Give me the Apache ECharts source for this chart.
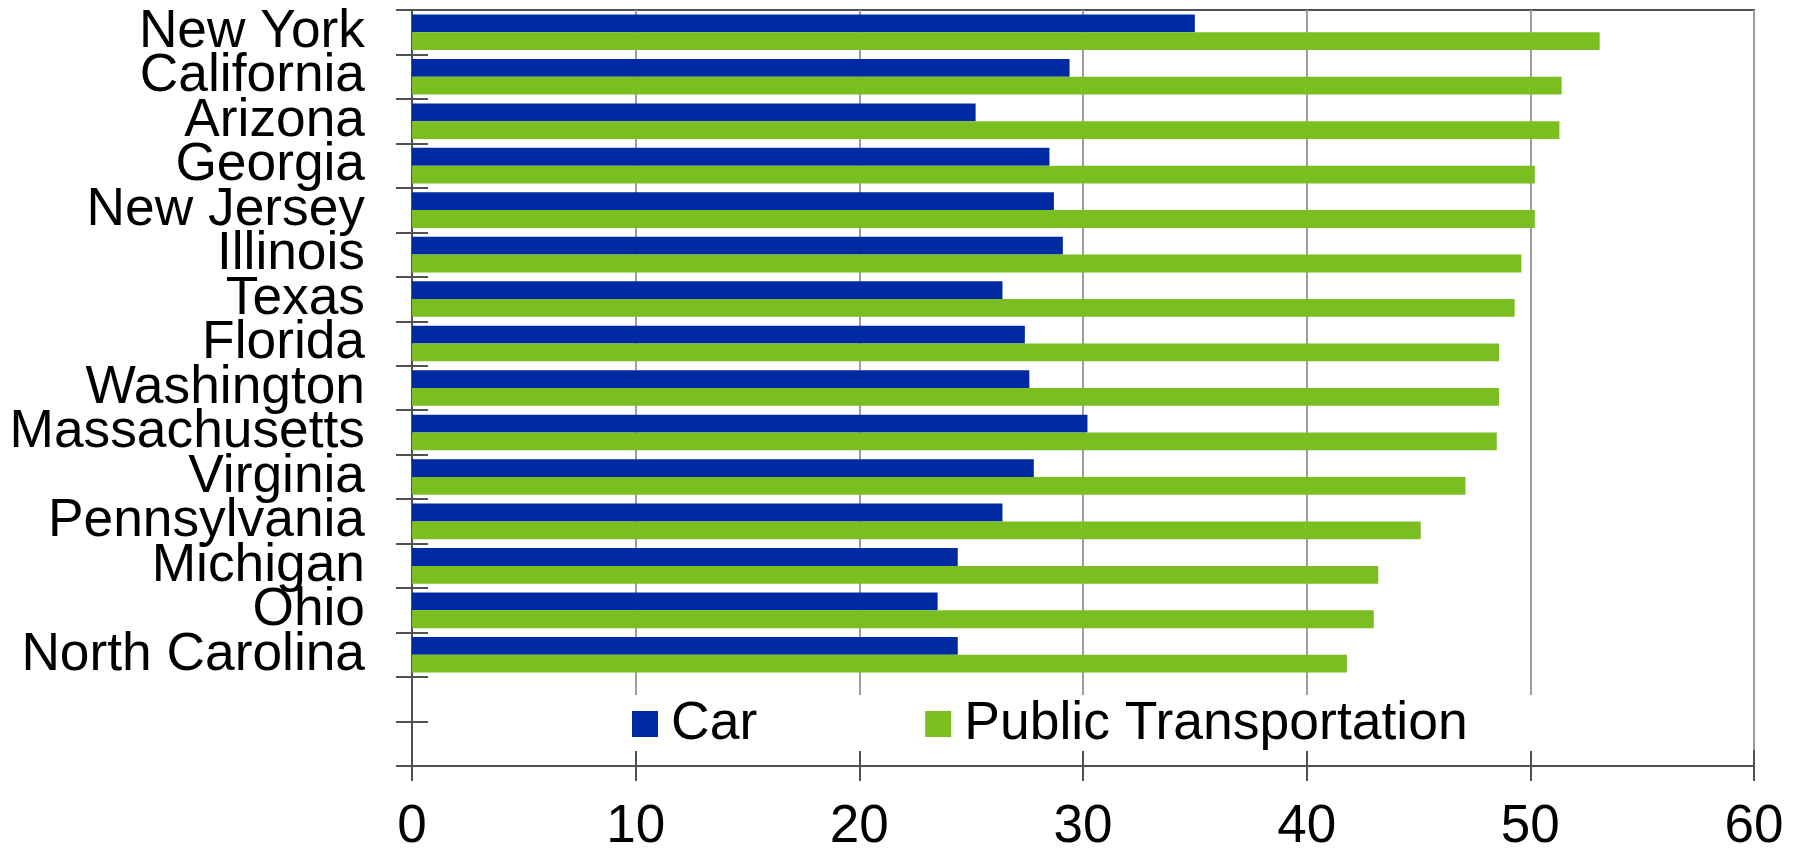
<!DOCTYPE html>
<html>
<head>
<meta charset="utf-8">
<script src="https://cdn.jsdelivr.net/npm/echarts@6/dist/echarts.min.js"></script>
<style>
  html, body { margin: 0; padding: 0; background: #fff; }
  #chart { width: 1803px; height: 854px; }
</style>
</head>
<body>
<div id="chart"></div>
<script>
// states top to bottom, two empty rows at the end make room for the legend
var states = ["New York", "California", "Arizona", "Georgia", "New Jersey", "Illinois",
    "Texas", "Florida", "Washington", "Massachusetts", "Virginia", "Pennsylvania",
    "Michigan", "Ohio", "North Carolina", "", ""];
var carValues = [35.0, 29.4, 25.2, 28.5, 28.7, 29.1, 26.4, 27.4, 27.6, 30.2, 27.8, 26.4, 24.4, 23.5, 24.4];
var transitValues = [53.1, 51.4, 51.3, 50.2, 50.2, 49.6, 49.3, 48.6, 48.6, 48.5, 47.1, 45.1, 43.2, 43.0, 41.8];
var seriesNames = ["Car", "Public Transportation"];
var xMin = 0, xMax = 60, xStep = 10;

var font = "'Liberation Sans', Arial, sans-serif";
var axisDark = "#4f5152";

var chart = echarts.init(document.getElementById("chart"));

var option = {
    animation: false,
    textStyle: { fontFamily: font },
    legend: {
        data: seriesNames,
        left: 430,
        top: 695,
        padding: [2, 270, 0, 202],
        backgroundColor: "#fff",
        itemWidth: 26,
        itemHeight: 26,
        itemGap: 168,
        icon: "rect",
        textStyle: { fontSize: 53.5, color: "#000", fontFamily: font, padding: [0, 0, 0, 8] },
    },
    grid: {
        left: 412,
        right: 49,
        top: 10,
        bottom: 86,
        show: true,
        borderColor: axisDark,
        borderWidth: 2,
        backgroundColor: "transparent",
    },
    xAxis: [
        {
            type: "value",
            min: xMin,
            max: xMax,
            interval: xStep,
            axisLine: { show: true, lineStyle: { color: axisDark, width: 2 } },
            axisTick: { show: true, length: 15, lineStyle: { color: axisDark, width: 2 } },
            axisLabel: { fontSize: 53, color: "#000", margin: 35, fontFamily: font },
            splitLine: { show: true, lineStyle: { color: "#9c9ea0", width: 2 } },
        },
        {
            // inner half of the crossing ticks
            type: "value",
            position: "bottom",
            min: xMin,
            max: xMax,
            interval: xStep,
            axisLine: { show: false },
            axisTick: { show: true, inside: true, length: 16, lineStyle: { color: axisDark, width: 2 } },
            axisLabel: { show: false },
            splitLine: { show: false },
        },
    ],
    yAxis: [
        {
            type: "category",
            data: states,
            inverse: true,
            position: "left",
            axisLine: { show: true, lineStyle: { color: axisDark, width: 2 } },
            axisTick: { show: true, interval: 0, length: 16, lineStyle: { color: axisDark, width: 2 } },
            axisLabel: { interval: 0, fontSize: 53.3, color: "#000", margin: 47, fontFamily: font },
        },
        {
            type: "category",
            data: states,
            inverse: true,
            position: "left",
            axisLine: { show: false },
            axisTick: { show: true, inside: true, interval: 0, length: 16, lineStyle: { color: axisDark, width: 2 } },
            axisLabel: { show: false },
        },
    ],
    series: [
        {
            name: seriesNames[0],
            type: "bar",
            data: carValues,
            xAxisIndex: 0,
            yAxisIndex: 0,
            barGap: "0%",
            barCategoryGap: "20%",
            itemStyle: { color: "#002aa1" },
        },
        {
            name: seriesNames[1],
            type: "bar",
            data: transitValues,
            xAxisIndex: 0,
            yAxisIndex: 0,
            barGap: "0%",
            barCategoryGap: "20%",
            itemStyle: { color: "#7bbe22" },
        },
    ],
};

chart.setOption(option);
window.onresize = function () {
    chart.resize();
};
</script>
</body>
</html>
